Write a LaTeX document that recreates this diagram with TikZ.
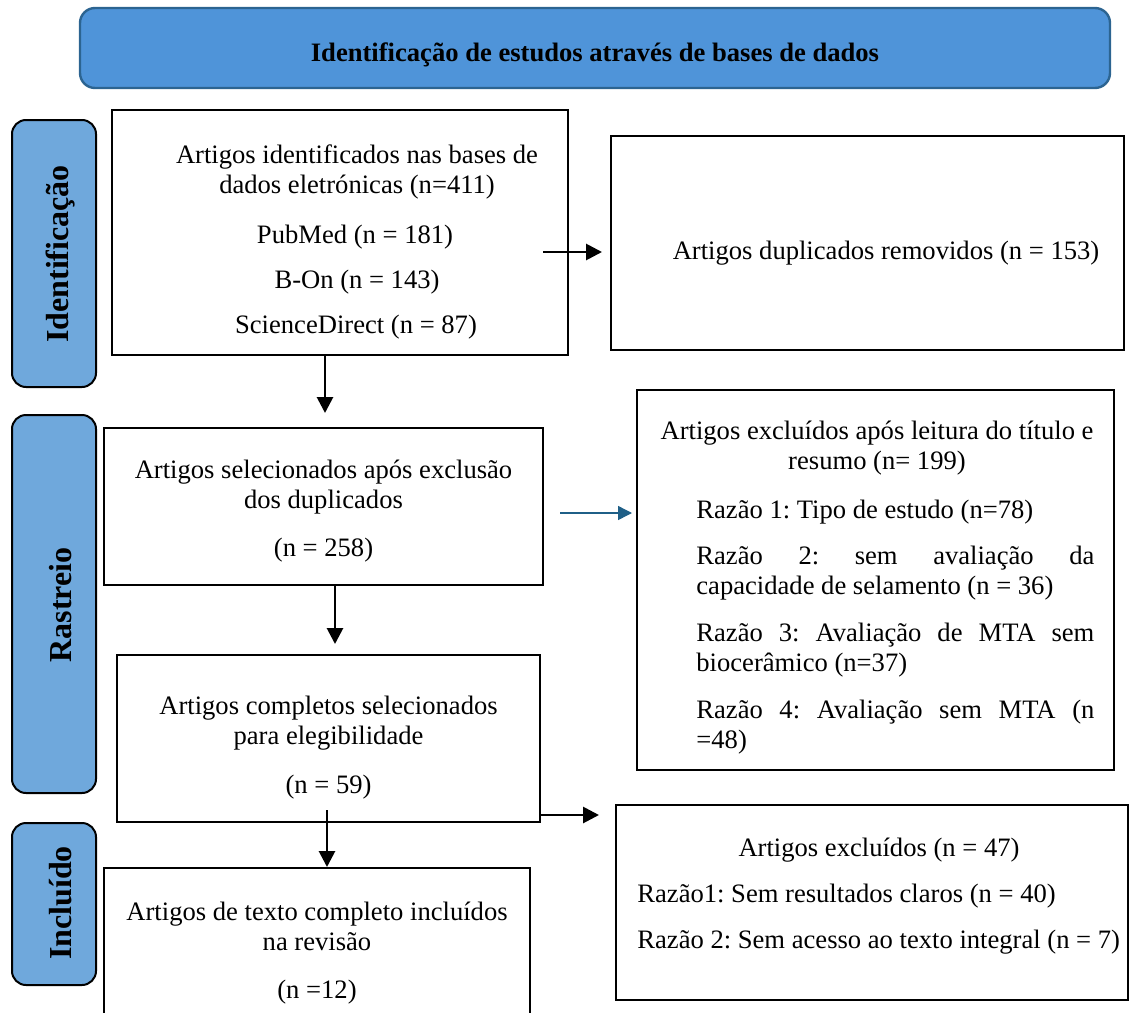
\documentclass[tikz,border=0pt]{standalone}
\usepackage{fontspec}
\setmainfont{Liberation Serif}
\usetikzlibrary{arrows.meta}
\frenchspacing
\definecolor{bannerblue}{HTML}{4F94D9}
\definecolor{bannerline}{HTML}{2C6491}
\definecolor{sideblue}{HTML}{6FA8DC}
\definecolor{arrowteal}{HTML}{1F5F87}
\newcommand{\boxfont}{\fontsize{13.3}{15}\selectfont}

\begin{document}
\begin{tikzpicture}[x=0.5pt, y=-0.5pt,
	flowbox/.style={draw, line width=1pt, inner sep=0pt},
	sidebox/.style={draw, line width=1pt, fill=sideblue, rounded corners=7pt, inner sep=0pt, minimum width=42pt},
	sidetext/.style={rotate=90, inner sep=0pt, font=\fontsize{16}{18}\selectfont\bfseries},
	txt/.style={inner sep=0pt, font=\boxfont, align=center},
	flow/.style={line width=1.4pt, -{Triangle[length=8pt,width=8pt]}}]
	
	\useasboundingbox (0,0) rectangle (1135,1012);
	
	% Banner on top
	\node[draw=bannerline, line width=1.2pt, fill=bannerblue, rounded corners=7.5pt,
	      minimum width=515pt, minimum height=40pt, inner sep=0pt] at (595,48) (banner) {};
	\node[txt, font=\boxfont\bfseries] at (595,55) (bannertxt) {Identificação de estudos através de bases de dados};
	
	% Stage labels on the left
	\node[sidebox, minimum height=133.5pt] at (54,253.5) (sideIdent) {};
	\node[sidebox, minimum height=189pt] at (54,604) (sideRast) {};
	\node[sidebox, minimum height=81pt] at (54,904) (sideIncl) {};
	\node[sidetext] at (61,254) (sideIdentTxt) {Identificação};
	\node[sidetext] at (61,605) (sideRastTxt) {Rastreio};
	\node[sidetext] at (61,903) (sideInclTxt) {Incluído};
	
	% Boxes
	\node[flowbox, minimum width=228pt, minimum height=122.5pt] at (340,232.5) (aIdent) {};
	\node[flowbox, minimum width=256.5pt, minimum height=107pt] at (867.5,243) (bDup) {};
	\node[flowbox, minimum width=219.5pt, minimum height=78.5pt] at (323.5,506.5) (cSel) {};
	\node[flowbox, minimum width=238.5pt, minimum height=190pt] at (875.5,580) (dExcl) {};
	\node[flowbox, minimum width=211.5pt, minimum height=83.5pt] at (328.5,738.5) (eFull) {};
	\node[flowbox, minimum width=256pt, minimum height=97.5pt] at (872,902.5) (fExcl) {};
	\node[flowbox, minimum width=213pt, minimum height=81pt] at (317,949) (gIncl) {};
	
	% Texts in the boxes
	\node[txt] at (357,172) (aTxt) {Artigos identificados nas bases de\\dados eletrónicas (n=411)};
	\node[txt] at (355,237) (aPub) {PubMed (n = 181)};
	\node[txt] at (357,282) (aBon) {B-On (n = 143)};
	\node[txt] at (356,327) (aSci) {ScienceDirect (n = 87)};
	
	\node[txt] at (886,253) (bTxt) {Artigos duplicados removidos (n = 153)};
	
	\node[txt] at (323.5,487) (cTxt) {Artigos selecionados após exclusão\\dos duplicados};
	\node[txt] at (323.5,550) (cN) {(n = 258)};
	
	\node[txt] at (877,448) (dTxt) {Artigos excluídos após leitura do título e\\resumo (n= 199)};
	\node[txt, anchor=west, text width=199pt, align=justify] at (696,512) (dR1) {Razão 1: Tipo de estudo (n=78)};
	\node[txt, anchor=west, text width=199pt, align=justify] at (696,573) (dR2) {Razão 2: sem avaliação da\linebreak capacidade de selamento (n = 36)};
	\node[txt, anchor=west, text width=199pt, align=justify] at (696,650) (dR3) {Razão 3: Avaliação de MTA sem\linebreak biocerâmico (n=37)};
	\node[txt, anchor=west, text width=199pt, align=justify] at (696,727) (dR4) {Razão 4: Avaliação sem MTA (n\linebreak =48)};
	
	\node[txt] at (328.5,723) (eTxt) {Artigos completos selecionados\\para elegibilidade};
	\node[txt] at (328.5,787) (eN) {(n = 59)};
	
	\node[txt] at (879,850) (fTxt) {Artigos excluídos (n = 47)};
	\node[txt, anchor=west] at (637,896) (fR1) {Razão1: Sem resultados claros (n = 40)};
	\node[txt, anchor=west] at (637,942) (fR2) {Razão 2: Sem acesso ao texto integral (n = 7)};
	
	\node[txt] at (317,926) (gTxt) {Artigos de texto completo incluídos\\na revisão};
	\node[txt] at (317,992) (gN) {(n =12)};
	
	% Start points of the arrows
	\coordinate (ab) at (543,252);
	\coordinate (ac) at (325,355);
	\coordinate (cd) at (560,513);
	\coordinate (ce) at (335,585);
	\coordinate (ef) at (540,815);
	\coordinate (eg) at (327,810);
	
	% Arrows
	\draw[flow, shorten >=4pt] (ab) -- (ab -| bDup.west);
	\draw[flow, shorten >=7pt] (ac) -- (ac |- cSel.north);
	\draw[line width=0.7pt, arrowteal, -{Triangle[length=7pt,width=7pt]}, shorten >=2pt] (cd) -- (cd -| dExcl.west);
	\draw[flow, shorten >=5pt] (ce) -- (ce |- eFull.north);
	\draw[flow, shorten >=8pt] (ef) -- (ef -| fExcl.west);
	\draw[flow] (eg) -- (eg |- gIncl.north);
	
\end{tikzpicture}
\end{document}
